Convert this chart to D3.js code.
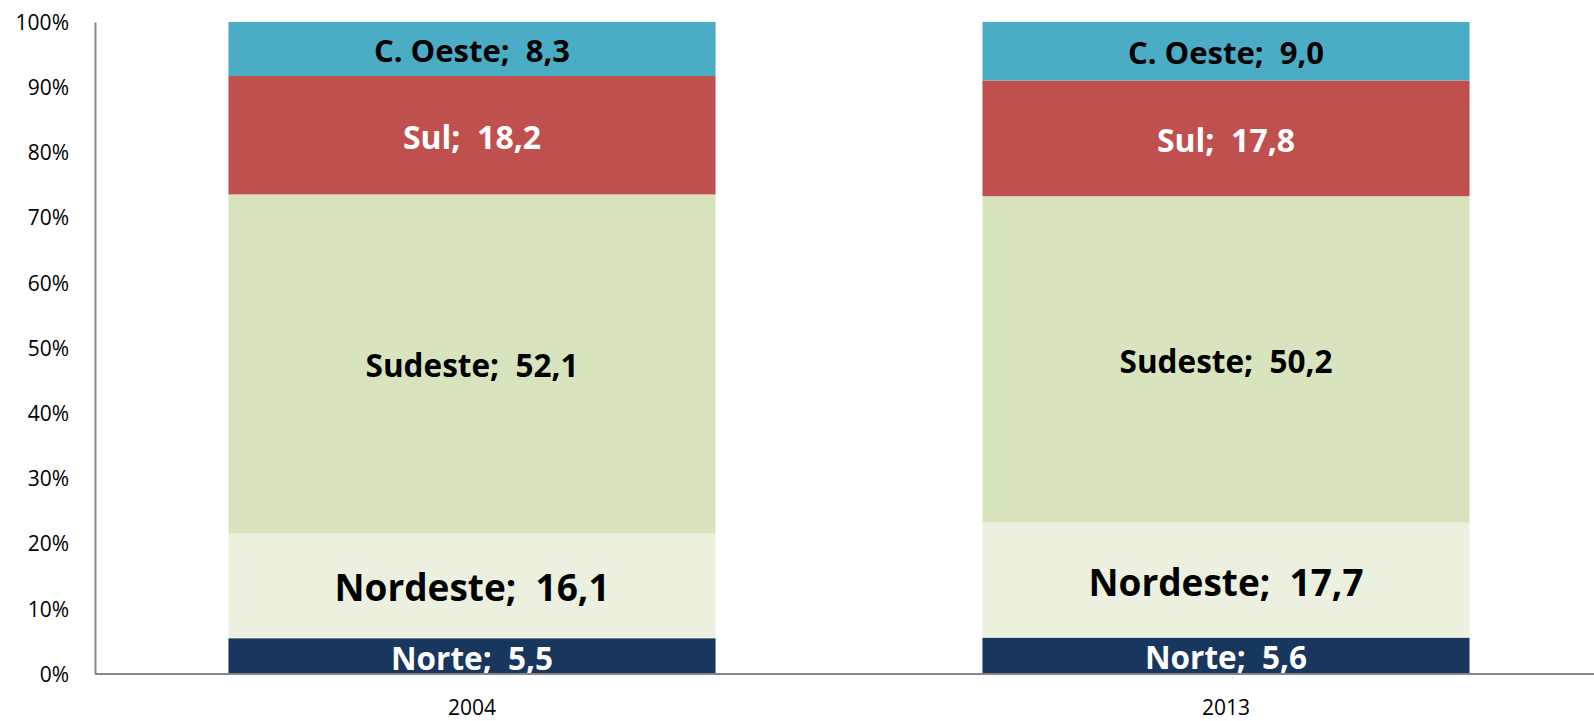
<!DOCTYPE html>
<html>
<head>
<meta charset="utf-8">
<script src="https://cdn.jsdelivr.net/npm/d3@7"></script>
<style>
  body { margin: 0; background: #fff; }
  svg text { font-family: "Open Sans", sans-serif; }
  .axis text { font-size: 21px; fill: #000; }
  .axis .domain { stroke: #868686; stroke-width: 2; }
  .seglabel { font-weight: bold; text-anchor: middle; dominant-baseline: central; white-space: pre; }
</style>
</head>
<body>
<svg width="1594" height="721"></svg>
<script>
const YEARS      = ["2004", "2013"];
const REGIONS    = ["Norte", "Nordeste", "Sudeste", "Sul", "C. Oeste"];
const VALUES2004 = [5.5, 16.1, 52.1, 18.2, 8.3];
const VALUES2013 = [5.6, 17.7, 50.2, 17.8, 9.0];
const Y_TICKS    = [0, 0.1, 0.2, 0.3, 0.4, 0.5, 0.6, 0.7, 0.8, 0.9, 1];

let fills      = ["#17375E", "#EBF1DE", "#D7E4BD", "#C0504D", "#4BACC6"],
    textColors = ["#fff", "#000", "#000", "#fff", "#000"],
    fontSizes  = [31.5, 37, 31.5, 32, 31];

let svg    = d3.select("svg"),
    rows   = YEARS.map((y, i) => {
               let vals = i === 0 ? VALUES2004 : VALUES2013,
                   row  = {year: y};
               REGIONS.forEach((r, j) => row[r] = vals[j]);
               return row;
             }),
    series = d3.stack()
               .keys(REGIONS)
               .offset(d3.stackOffsetExpand)(rows),
    x      = d3.scaleBand()
               .domain(YEARS)
               .range([95, 1603])
               .paddingInner(0.354)
               .paddingOuter(0.177),
    y      = d3.scaleLinear()
               .domain([0, 1])
               .range([674, 22]);

// bars
let layers = svg.append("g")
  .selectAll("g")
  .data(series)
  .enter().append("g")
    .attr("fill", (d, i) => fills[i]);

layers.selectAll("rect")
  .data(d => d)
  .enter().append("rect")
    .attr("x", d => x(d.data.year))
    .attr("width", x.bandwidth())
    .attr("y", d => y(d[1]))
    .attr("height", d => y(d[0]) - y(d[1]));

// labels
series.forEach((s, i) => {
  svg.append("g")
    .selectAll("text")
    .data(s)
    .enter().append("text")
      .attr("class", "seglabel")
      .attr("x", d => x(d.data.year) + x.bandwidth() / 2)
      .attr("y", d => (y(d[0]) + y(d[1])) / 2 + 1)
      .attr("fill", textColors[i])
      .style("font-size", fontSizes[i] + "px")
      .text(d => `${s.key};  ${d3.format(".1f")(d.data[s.key]).replace(".", ",")}`);
});

// axes
svg.append("g")
  .attr("class", "axis")
  .attr("transform", "translate(95,0)")
  .call(d3.axisLeft(y).tickValues(Y_TICKS).tickFormat(d3.format(".0%")).tickSize(0).tickPadding(26))
  .selectAll("text").attr("dy", "0.35em");

svg.append("g")
  .attr("class", "axis")
  .attr("transform", "translate(0,674)")
  .call(d3.axisBottom(x).tickSize(0).tickPadding(26).tickSizeOuter(0))
  .select(".domain").attr("d", "M95,0H1594");
</script>
</body>
</html>
